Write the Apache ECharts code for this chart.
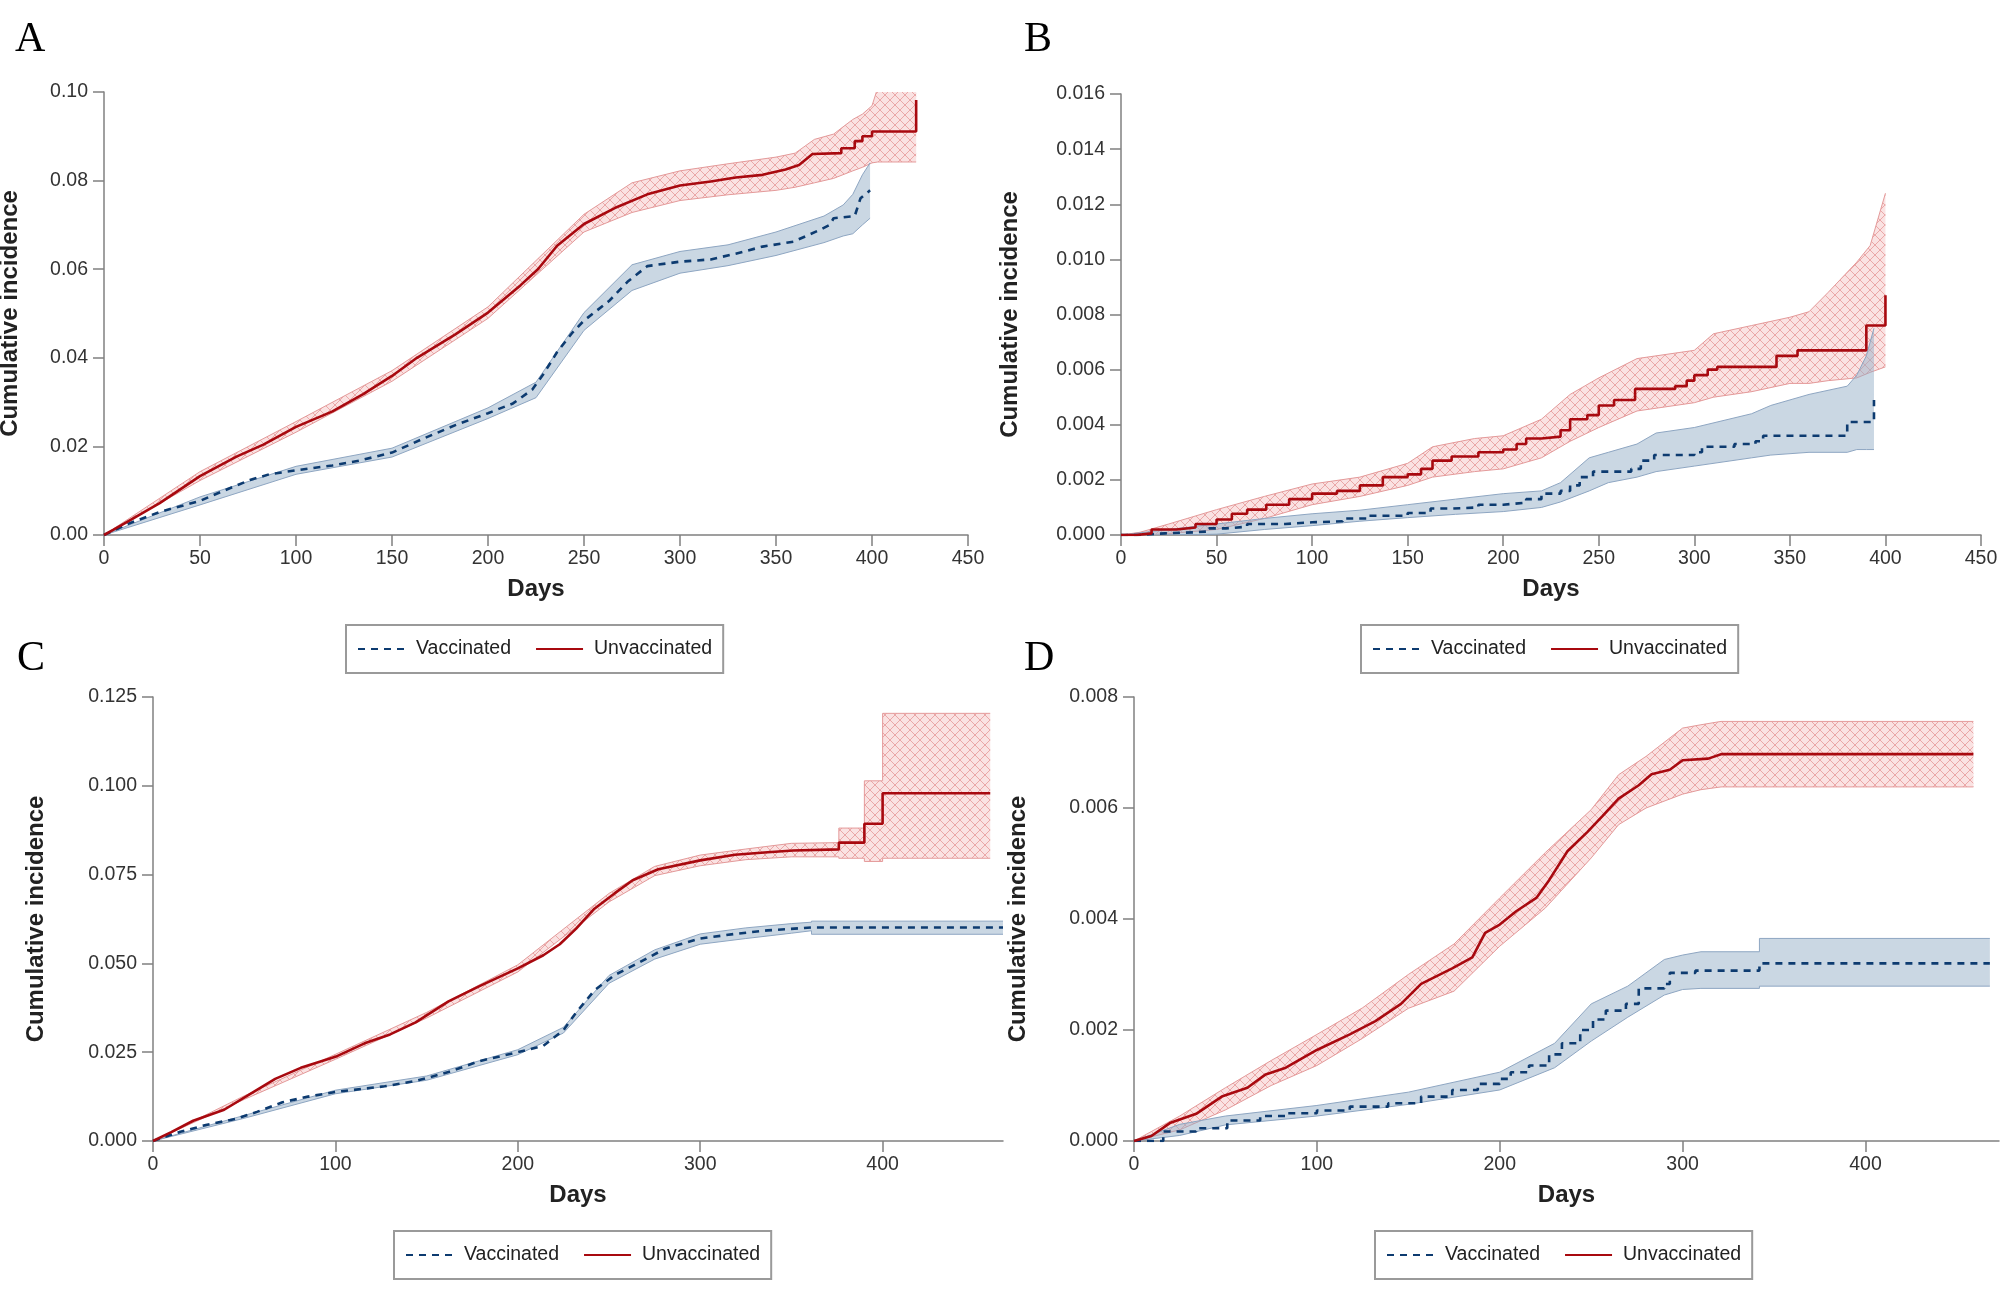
<!DOCTYPE html>
<html><head><meta charset="utf-8">
<script src="https://cdn.jsdelivr.net/npm/echarts@6/dist/echarts.min.js"></script>
<style>html,body{margin:0;padding:0;background:#fff}#c{width:2008px;height:1311px}</style>
</head><body><div id="c"></div><script>
// ---------- Panel A ----------
const aUnvDays = [0,5,13,29,50,69,83,100,119,135,150,163,183,200,217,226,236,250,266,283,300,316,329,343,355,362,369,384,384,391,391,395,395,400,400,423,423];
const aUnvEst  = [0,0.0012,0.0032,0.0072,0.0133,0.0177,0.0204,0.0244,0.0279,0.0318,0.0359,0.0400,0.0453,0.0502,0.0564,0.0600,0.0653,0.0702,0.0738,0.0769,0.0789,0.0798,0.0807,0.0813,0.0825,0.0835,0.0860,0.0862,0.0873,0.0873,0.0889,0.0889,0.0900,0.0900,0.0911,0.0911,0.0982];
const aUnvBandDays = [0,50,100,150,200,250,275,300,325,350,360,370,380,390,395,400,403,423];
const aUnvLo = [0,0.0123,0.0232,0.0347,0.0489,0.0684,0.0728,0.0755,0.0768,0.0778,0.0785,0.0795,0.0805,0.0822,0.0830,0.0840,0.0842,0.0842];
const aUnvHi = [0,0.0143,0.0256,0.0371,0.0515,0.0724,0.0795,0.0822,0.0838,0.0853,0.0862,0.0893,0.0905,0.0938,0.0950,0.0969,0.1010,0.1010];
const aVacDays = [0,13,29,50,63,76,86,100,119,133,150,166,183,200,213,223,229,236,244,250,263,273,283,300,316,329,343,359,373,378,380,391,394,399];
const aVacEst  = [0,0.0026,0.0052,0.0077,0.0101,0.0124,0.0137,0.0146,0.0157,0.0168,0.0186,0.0217,0.0248,0.0275,0.0297,0.0328,0.0364,0.0413,0.0457,0.0484,0.0528,0.0573,0.0607,0.0617,0.0622,0.0635,0.0651,0.0662,0.0689,0.0700,0.0715,0.0720,0.0760,0.0778];
const aVacBandDays = [0,50,100,150,200,225,250,275,300,325,350,375,385,390,395,399];
const aVacLo = [0,0.0068,0.0137,0.0176,0.0263,0.0310,0.0462,0.0552,0.0591,0.0608,0.0631,0.0660,0.0675,0.0680,0.0700,0.0715];
const aVacHi = [0,0.0086,0.0155,0.0196,0.0287,0.0345,0.0502,0.0610,0.0640,0.0655,0.0684,0.0720,0.0745,0.0769,0.0813,0.0840];

// ---------- Panel B ----------
const bUnvDays = [0,8,16,29,39,50,58,66,76,88,100,113,125,137,150,157,163,173,187,200,207,212,220,230,235,244,250,258,269,290,296,300,307,312,343,354,390,400];
const bUnvEst  = [0,0.00006,0.0002,0.00027,0.0004,0.00056,0.00077,0.00092,0.0011,0.0013,0.0015,0.0016,0.0018,0.0021,0.0022,0.0024,0.0027,0.00285,0.0030,0.0031,0.0033,0.0035,0.00357,0.0038,0.0042,0.00435,0.0047,0.0049,0.0053,0.0054,0.0056,0.0058,0.0060,0.0061,0.0065,0.0067,0.0076,0.0087];
const bUnvBandDays = [0,10,25,50,75,100,125,150,163,185,200,220,235,250,270,300,310,330,350,360,370,385,392,400];
const bUnvLo = [0,0,0.00005,0.0002,0.0006,0.0011,0.0014,0.0018,0.0021,0.0023,0.0024,0.0028,0.0034,0.0039,0.0045,0.0048,0.0050,0.0052,0.0055,0.0055,0.0056,0.0057,0.0059,0.0061];
const bUnvHi = [0,0.0001,0.0004,0.00092,0.0014,0.00185,0.0021,0.0026,0.0032,0.0035,0.0036,0.0042,0.0051,0.0057,0.0064,0.0067,0.0073,0.0076,0.0079,0.0081,0.0088,0.0099,0.0105,0.0124];
const bVacDays = [0,9,23,39,46,55,66,86,100,116,130,150,162,173,187,200,212,220,230,235,240,247,267,272,279,300,304,321,332,336,380,394];
const bVacEst  = [0,0.00006,0.0001,0.00013,0.00024,0.0003,0.0004,0.00046,0.0005,0.0006,0.0007,0.0008,0.00096,0.0010,0.0011,0.00117,0.0013,0.0015,0.0016,0.0018,0.0021,0.0023,0.0024,0.0027,0.0029,0.0030,0.0032,0.0033,0.0034,0.0036,0.0041,0.0049];
const bVacBandDays = [0,25,50,75,100,125,150,175,200,220,230,245,255,270,280,300,330,340,360,380,385,390,394];
const bVacLo = [0,0,0.00003,0.0002,0.00034,0.0005,0.00063,0.00075,0.00085,0.0010,0.0012,0.0016,0.0019,0.0021,0.0023,0.0025,0.0028,0.0029,0.0030,0.0030,0.0031,0.0031,0.0031];
const bVacHi = [0,0.0002,0.0004,0.0006,0.00077,0.0009,0.0011,0.0013,0.0015,0.0016,0.0019,0.0028,0.0030,0.0033,0.0037,0.0039,0.0044,0.0047,0.0051,0.0054,0.0058,0.0065,0.0075];

// ---------- Panel C ----------
const cUnvDays = [0,10,22,39,57,67,81,100,116,130,144,162,179,200,214,223,232,242,253,263,277,300,319,337,351,351,376,376,390,390,400,400,459];
const cUnvEst  = [0,0.0025,0.0057,0.0088,0.0144,0.0175,0.0206,0.0237,0.0275,0.0300,0.0334,0.0393,0.0436,0.0486,0.0523,0.0554,0.0598,0.0654,0.0697,0.0734,0.0765,0.0790,0.0806,0.0813,0.0818,0.0821,0.0821,0.0840,0.0840,0.0893,0.0893,0.0979,0.0979];
const cUnvBandDays = [0,50,100,150,200,250,275,300,325,350,376,376,390,390,400,400,459];
const cUnvLo = [0,0.0117,0.0230,0.0346,0.0476,0.0673,0.0747,0.0775,0.0792,0.0800,0.0800,0.0796,0.0796,0.0787,0.0787,0.0796,0.0796];
const cUnvHi = [0,0.0127,0.0244,0.0362,0.0496,0.0697,0.0773,0.0805,0.0822,0.0838,0.0840,0.0881,0.0881,0.1014,0.1014,0.1204,0.1204];
const cVacDays = [0,15,29,46,57,71,85,100,127,144,162,179,200,214,225,232,242,253,267,281,300,319,337,361,466];
const cVacEst  = [0,0.0026,0.0045,0.0063,0.0082,0.0109,0.0125,0.0138,0.0154,0.0169,0.0194,0.0225,0.0250,0.0268,0.0312,0.0362,0.0424,0.0467,0.0504,0.0542,0.0570,0.0583,0.0593,0.0601,0.0601];
const cVacBandDays = [0,50,100,150,200,225,250,275,300,325,350,361,361,466];
const cVacLo = [0,0.0064,0.0133,0.0171,0.0243,0.0304,0.0444,0.0512,0.0554,0.0570,0.0585,0.0592,0.0582,0.0582];
const cVacHi = [0,0.0072,0.0143,0.0183,0.0257,0.0320,0.0466,0.0538,0.0583,0.0600,0.0612,0.0616,0.0619,0.0619];

// ---------- Panel D ----------
const dUnvDays = [0,9.5,20,34,48,62,72,83,100,118,132,146,157,174,185,192,200,209,220,227,237,248,256,265,276,283,293,300,314,321,459];
const dUnvEst  = [0,0.00009,0.00033,0.00049,0.0008,0.00096,0.0012,0.00132,0.00164,0.00192,0.00216,0.00247,0.00283,0.00311,0.00331,0.00375,0.0039,0.00414,0.00438,0.0047,0.00522,0.00557,0.00585,0.00617,0.00641,0.00661,0.00669,0.00686,0.00689,0.00697,0.00697];
const dUnvBandDays = [0,25,50,75,100,125,150,175,200,225,250,265,280,300,310,321,459];
const dUnvLo = [0,0.0002,0.00056,0.0010,0.00136,0.00185,0.00239,0.0027,0.00351,0.0042,0.0051,0.0057,0.0060,0.00625,0.00633,0.00638,0.00638];
const dUnvHi = [0,0.00045,0.00096,0.00145,0.00192,0.0024,0.0030,0.00355,0.00438,0.0052,0.00597,0.0066,0.00693,0.00744,0.0075,0.00756,0.00756];
const dVacDays = [0,16,34,51,69,83,100,118,139,157,174,188,200,206,216,227,234,244,251,258,269,276,290,293,307,342,468];
const dVacEst  = [0,0.00017,0.00023,0.00037,0.00045,0.0005,0.00055,0.00062,0.00068,0.0008,0.00092,0.00103,0.00112,0.00124,0.00136,0.00156,0.00176,0.002,0.00219,0.00235,0.00247,0.00275,0.00283,0.00303,0.00307,0.0032,0.0032];
const dVacBandDays = [0,25,50,100,150,200,230,250,270,290,300,310,342,342,468];
const dVacLo = [0,0.0001,0.00029,0.00045,0.00066,0.00092,0.00132,0.0018,0.00223,0.00263,0.00273,0.00275,0.00275,0.00279,0.00279];
const dVacHi = [0,0.0003,0.00045,0.00064,0.00088,0.00124,0.00176,0.00247,0.00279,0.00327,0.00335,0.00341,0.00341,0.00365,0.00365];

// ---------- Tick labels ----------
const xTicksAB = [0,50,100,150,200,250,300,350,400,450];
const xTicksCD = [0,100,200,300,400];
const yTicksA = [0,0.02,0.04,0.06,0.08,0.10];
const yTicksB = [0,0.002,0.004,0.006,0.008,0.010,0.012,0.014,0.016];
const yTicksC = [0,0.025,0.05,0.075,0.1,0.125];
const yTicksD = [0,0.002,0.004,0.006,0.008];
const panelLetters = ['A','B','C','D'];
const legendNames = ['Vaccinated','Unvaccinated'];

const F = '"Liberation Sans", Arial, sans-serif';
const RED = '#a8090f', BLUE = '#0d3b70';

function hatch(){
  const c = document.createElement('canvas'); c.width = 10; c.height = 10;
  const g = c.getContext('2d');
  g.fillStyle = '#fae2e2'; g.fillRect(0,0,10,10);
  g.strokeStyle = '#eaa7a7'; g.lineWidth = 1;
  g.beginPath(); g.moveTo(0,0); g.lineTo(10,10); g.moveTo(10,0); g.lineTo(0,10); g.stroke();
  return c;
}
const hatchFill = {image: hatch(), repeat: 'repeat'};
const blueFill = 'rgba(150,175,200,0.5)';

function bandSeries(gi, days, lo, hi, fill, edge){
  return {
    type:'custom', xAxisIndex:gi, yAxisIndex:gi, silent:true, z:1, clip:true, animation:false,
    data: days.map((d,i)=>[d,lo[i],hi[i]]),
    encode:{x:0, y:[1,2]},
    renderItem: function(params, api){
      if (params.dataIndex !== 0) return null;
      const top = days.map((d,i)=>api.coord([d,hi[i]]));
      const bot = days.map((d,i)=>api.coord([d,lo[i]]));
      const poly = top.concat(bot.slice().reverse());
      return {type:'group', children:[
        {type:'polygon', shape:{points:poly}, style:{fill:fill, stroke:null}},
        {type:'polyline', shape:{points:top}, style:{fill:null, stroke:edge, lineWidth:1}},
        {type:'polyline', shape:{points:bot}, style:{fill:null, stroke:edge, lineWidth:1}}
      ]};
    }
  };
}
function lineSeries(gi, name, days, vals, color, dashed, step){
  return {
    type:'line', name:name, xAxisIndex:gi, yAxisIndex:gi,
    data: days.map((d,i)=>[d,vals[i]]),
    symbol:'none', showSymbol:false, step: step || false, z:3, silent:true, animation:false,
    lineStyle:{color:color, width:2.6, type: dashed ? [7,6] : 'solid'},
    itemStyle:{color:color}
  };
}
function xAxis(gi, max, ticks){
  return {
    type:'value', gridIndex:gi, min:0, max:max,
    name:'Days', nameLocation:'middle', nameGap:42, nameMoveOverlap:false,
    nameTextStyle:{fontFamily:F, fontSize:24, fontWeight:'bold', color:'#222'},
    axisLine:{show:true, onZero:false, lineStyle:{color:'#808080', width:1.5}},
    axisTick:{show:true, length:11, customValues:ticks, lineStyle:{color:'#808080', width:1.5}},
    axisLabel:{fontFamily:F, fontSize:19.5, color:'#333', margin:14, customValues:ticks},
    splitLine:{show:false}
  };
}
function yAxis(gi, max, ticks, dec, gap){
  return {
    type:'value', gridIndex:gi, min:0, max:max,
    name:'Cumulative incidence', nameLocation:'middle', nameRotate:90, nameGap:gap, nameMoveOverlap:false,
    nameTextStyle:{fontFamily:F, fontSize:24, fontWeight:'bold', color:'#222'},
    axisLine:{show:true, onZero:false, lineStyle:{color:'#808080', width:1.5}},
    axisTick:{show:true, length:11, customValues:ticks, lineStyle:{color:'#808080', width:1.5}},
    axisLabel:{fontFamily:F, fontSize:19.5, color:'#333', margin:16, customValues:ticks,
      formatter: v => Number(v).toFixed(dec)},
    splitLine:{show:false}
  };
}
const legendCommon = {
  data: legendNames, orient:'horizontal', itemWidth:47, itemHeight:14, itemGap:24,
  padding:[14,11,14,11], borderColor:'#9a9a9a', borderWidth:2, backgroundColor:'#fff',
  selectedMode:false,
  itemStyle:{opacity:0, borderWidth:0},
  textStyle:{fontFamily:F, fontSize:19.5, color:'#222', padding:[0,0,0,6]}
};
const legendPos = [[346,625],[1361,625],[394,1231],[1375,1231]];
const letterPos = [[15,19],[1024,19],[17,638],[1024,638]];

const option = {
  backgroundColor:'#fff',
  animation:false,
  grid:[
    {left:104, top:92, width:864, height:443, outerBoundsMode:'none'},
    {left:1121, top:94, width:860, height:441, outerBoundsMode:'none'},
    {left:153, top:697, width:850, height:444, outerBoundsMode:'none'},
    {left:1134, top:697, width:865, height:444, outerBoundsMode:'none'}
  ],
  xAxis:[ xAxis(0,450,xTicksAB), xAxis(1,450,xTicksAB), xAxis(2,466,xTicksCD), xAxis(3,473,xTicksCD) ],
  yAxis:[ yAxis(0,0.10,yTicksA,2,82), yAxis(1,0.016,yTicksB,3,99), yAxis(2,0.125,yTicksC,3,105), yAxis(3,0.008,yTicksD,3,104) ],
  legend: legendPos.map(p => Object.assign({}, legendCommon, {left:p[0], top:p[1]})),
  graphic: panelLetters.map((t,i)=>({type:'text', left:letterPos[i][0], top:letterPos[i][1],
    style:{text:t, font:'42px "Liberation Serif", "Times New Roman", serif', fill:'#000'}})),
  series:[
    bandSeries(0, aUnvBandDays, aUnvLo, aUnvHi, hatchFill, '#e49a9a'),
    bandSeries(0, aVacBandDays, aVacLo, aVacHi, blueFill, '#8ea6c2'),
    lineSeries(0, 'Vaccinated', aVacDays, aVacEst, BLUE, true, false),
    lineSeries(0, 'Unvaccinated', aUnvDays, aUnvEst, RED, false, false),

    bandSeries(1, bUnvBandDays, bUnvLo, bUnvHi, hatchFill, '#e49a9a'),
    bandSeries(1, bVacBandDays, bVacLo, bVacHi, blueFill, '#8ea6c2'),
    lineSeries(1, 'Vaccinated', bVacDays, bVacEst, BLUE, true, 'end'),
    lineSeries(1, 'Unvaccinated', bUnvDays, bUnvEst, RED, false, 'end'),

    bandSeries(2, cUnvBandDays, cUnvLo, cUnvHi, hatchFill, '#e49a9a'),
    bandSeries(2, cVacBandDays, cVacLo, cVacHi, blueFill, '#8ea6c2'),
    lineSeries(2, 'Vaccinated', cVacDays, cVacEst, BLUE, true, false),
    lineSeries(2, 'Unvaccinated', cUnvDays, cUnvEst, RED, false, false),

    bandSeries(3, dUnvBandDays, dUnvLo, dUnvHi, hatchFill, '#e49a9a'),
    bandSeries(3, dVacBandDays, dVacLo, dVacHi, blueFill, '#8ea6c2'),
    lineSeries(3, 'Vaccinated', dVacDays, dVacEst, BLUE, true, 'end'),
    lineSeries(3, 'Unvaccinated', dUnvDays, dUnvEst, RED, false, false)
  ]
};
const chart = echarts.init(document.getElementById('c'), null, {renderer:'canvas'});
chart.setOption(option);
</script></body></html>
